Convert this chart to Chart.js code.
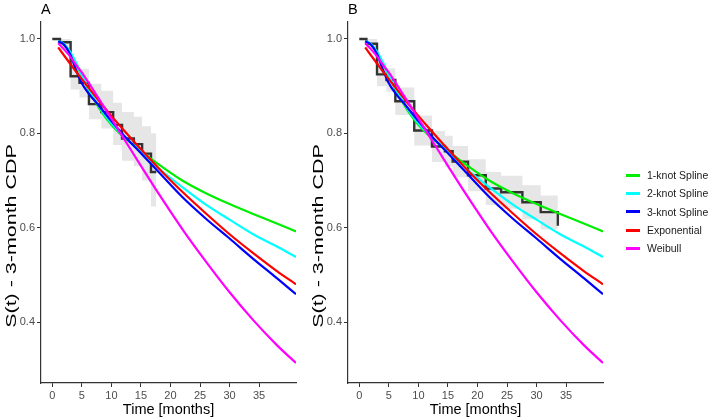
<!DOCTYPE html>
<html>
<head>
<meta charset="utf-8">
<script src="https://cdn.jsdelivr.net/npm/chart.js@4/dist/chart.umd.min.js"></script>
<style>
  html, body { margin: 0; padding: 0; background: #fff; overflow: hidden; }
  #wrap { position: relative; width: 709px; height: 420px; }
  canvas { position: absolute; top: 0; }
  #panelA { left: 0; }
  #panelB { left: 307px; }
  #legend { position: absolute; left: 626px; top: 166px; font-family: "Liberation Sans", Arial, sans-serif; font-size: 10.5px; color: #1a1a1a; }
  .row { height: 18.3px; display: flex; align-items: center; }
  .swatch { width: 14px; height: 3px; margin-right: 7px; }
</style>
</head>
<body>
<div id="wrap">
  <canvas id="panelA" width="300" height="420"></canvas>
  <canvas id="panelB" width="402" height="420"></canvas>
  <div id="legend"></div>
</div>
<script>
// Axes
const xTicks = [0, 5, 10, 15, 20, 25, 30, 35];
const yTicks = [0.4, 0.6, 0.8, 1.0];

// Modelled survival curves (same in both panels)
const curveTimes = [1, 2, 3, 4, 5, 6, 8, 10, 12, 15, 18, 22, 26, 30, 34, 38, 41.24];
const spline1 = [0.995, 0.987, 0.971, 0.948, 0.921, 0.896, 0.852, 0.818, 0.793, 0.763, 0.734, 0.700, 0.673, 0.650, 0.629, 0.609, 0.592];
const spline2 = [0.996, 0.989, 0.973, 0.950, 0.923, 0.898, 0.855, 0.821, 0.795, 0.761, 0.726, 0.686, 0.649, 0.617, 0.586, 0.560, 0.538];
const spline3 = [0.995, 0.988, 0.968, 0.935, 0.906, 0.887, 0.857, 0.826, 0.797, 0.758, 0.718, 0.665, 0.619, 0.577, 0.534, 0.493, 0.459];
const exponential = [0.982, 0.965, 0.948, 0.931, 0.915, 0.899, 0.867, 0.837, 0.808, 0.766, 0.726, 0.676, 0.630, 0.586, 0.546, 0.508, 0.480];
const weibull = [0.991, 0.978, 0.963, 0.945, 0.929, 0.910, 0.871, 0.831, 0.791, 0.731, 0.672, 0.597, 0.528, 0.463, 0.404, 0.351, 0.313];

const seriesNames = ['1-knot Spline', '2-knot Spline', '3-knot Spline', 'Exponential', 'Weibull'];
const seriesColors = ['#00ee00', '#00ffff', '#0000ff', '#ff0000', '#ff00ff'];
const seriesValues = [spline1, spline2, spline3, exponential, weibull];

// Kaplan-Meier estimate and its confidence band, panel A
const kmTimesA = [0, 1.3, 3.1, 4.6, 6.2, 8.3, 10.3, 11.8, 13.8, 15.2, 16.7, 17.6];
const kmSurvA = [1.0, 0.993, 0.921, 0.907, 0.862, 0.845, 0.818, 0.789, 0.777, 0.757, 0.718, 0.718];
const kmUpperA = [1.0, 1.0, 0.948, 0.937, 0.905, 0.890, 0.865, 0.845, 0.835, 0.815, 0.800, 0.800];
const kmLowerA = [1.0, 0.975, 0.893, 0.876, 0.830, 0.810, 0.775, 0.742, 0.730, 0.700, 0.645, 0.645];

// Kaplan-Meier estimate and its confidence band, panel B
const kmTimesB = [0, 1.2, 3.0, 4.6, 6.1, 9.3, 12.3, 14.5, 15.8, 18.4, 21.4, 24.0, 27.6, 30.7, 33.6];
const kmSurvB = [1.0, 0.990, 0.925, 0.913, 0.868, 0.806, 0.772, 0.762, 0.740, 0.711, 0.683, 0.675, 0.654, 0.633, 0.604];
const kmUpperB = [1.0, 1.0, 0.950, 0.938, 0.897, 0.838, 0.805, 0.795, 0.773, 0.745, 0.718, 0.710, 0.690, 0.668, 0.640];
const kmLowerB = [1.0, 0.980, 0.900, 0.888, 0.839, 0.774, 0.739, 0.729, 0.707, 0.677, 0.648, 0.640, 0.618, 0.596, 0.570];

const FONT = '"Liberation Sans", Arial, sans-serif';
const Y_TITLE = 'S(t) - 3-month CDP';

function pts(xs, ys) {
    return xs.map((x, i) => ({ x: x, y: ys[i] }));
}

// Lettre du panneau + titre vertical (étiré en longueur et décalé vers le bas, comme sur l'original)
const panelText = {
    id: 'panelText',
    afterDraw(chart, args, opts) {
        const ctx = chart.ctx;
        ctx.save();
        ctx.fillStyle = '#000';
        ctx.font = '14.5px ' + FONT;
        ctx.textBaseline = 'middle';
        ctx.textAlign = 'left';
        ctx.fillText(opts.letter, chart.chartArea.left, 10);

        ctx.translate(12, 236);
        ctx.rotate(-Math.PI / 2);
        ctx.scale(1.48, 1);
        ctx.font = '14.5px ' + FONT;
        ctx.textAlign = 'center';
        ctx.fillText(Y_TITLE, 0, 0);
        ctx.restore();
    }
};

function buildDatasets(times, surv, upper, lower) {
    const ds = seriesValues.map((vals, i) => ({
        label: seriesNames[i],
        data: pts(curveTimes, vals),
        borderColor: seriesColors[i],
        borderWidth: 2.2,
        pointRadius: 0,
        cubicInterpolationMode: 'monotone',
        fill: false,
        order: 5 - i
    }));
    ds.push({
        label: 'KM',
        data: pts(times, surv),
        borderColor: '#333333',
        borderWidth: 2.4,
        pointRadius: 0,
        stepped: true,
        fill: false,
        order: 6
    });
    ds.push({
        label: 'upper',
        data: pts(times, upper),
        borderWidth: 0,
        borderColor: 'rgba(0,0,0,0)',
        backgroundColor: '#e6e6e6',
        pointRadius: 0,
        stepped: true,
        fill: '+1',
        order: 7
    });
    ds.push({
        label: 'lower',
        data: pts(times, lower),
        borderWidth: 0,
        borderColor: 'rgba(0,0,0,0)',
        pointRadius: 0,
        stepped: true,
        fill: false,
        order: 8
    });
    return ds;
}

function makePanel(id, letter, rightPad, times, surv, upper, lower) {
    return new Chart(document.getElementById(id), {
        type: 'line',
        data: { datasets: buildDatasets(times, surv, upper, lower) },
        options: {
            responsive: false,
            animation: false,
            devicePixelRatio: 1,
            layout: { padding: { top: 22, right: rightPad, bottom: 0, left: 0 } },
            plugins: {
                legend: { display: false },
                tooltip: { enabled: false },
                panelText: { letter: letter }
            },
            scales: {
                x: {
                    type: 'linear',
                    min: -1.91,
                    max: 41.24,
                    afterBuildTicks: axis => { axis.ticks = xTicks.map(v => ({ value: v })); },
                    afterFit: axis => { axis.height = 37; },
                    ticks: { color: '#4d4d4d', font: { family: FONT, size: 11 }, padding: 2, maxRotation: 0 },
                    grid: { display: true, drawOnChartArea: false, drawTicks: true, tickLength: 4, color: '#333' },
                    border: { display: true, color: '#333', width: 1.2 },
                    title: { display: true, text: 'Time [months]', color: '#000', font: { family: FONT, size: 14.5 }, padding: { top: 0, bottom: 1.5 } }
                },
                y: {
                    type: 'linear',
                    min: 0.2707,
                    max: 1.036,
                    afterBuildTicks: axis => { axis.ticks = yTicks.map(v => ({ value: v })); },
                    afterFit: axis => { axis.width = 41; },
                    ticks: { color: '#4d4d4d', font: { family: FONT, size: 11 }, padding: 2, callback: v => v.toFixed(1) },
                    grid: { display: true, drawOnChartArea: false, drawTicks: true, tickLength: 4, color: '#333' },
                    border: { display: true, color: '#333', width: 1.2 },
                    title: { display: false }
                }
            }
        },
        plugins: [panelText]
    });
}

makePanel('panelA', 'A', 4, kmTimesA, kmSurvA, kmUpperA, kmLowerA);
makePanel('panelB', 'B', 106, kmTimesB, kmSurvB, kmUpperB, kmLowerB);

// Légende HTML construite à partir des mêmes tableaux
const legend = document.getElementById('legend');
seriesNames.forEach((name, i) => {
    const row = document.createElement('div');
    row.className = 'row';
    const sw = document.createElement('span');
    sw.className = 'swatch';
    sw.style.background = seriesColors[i];
    const txt = document.createElement('span');
    txt.textContent = name;
    row.appendChild(sw);
    row.appendChild(txt);
    legend.appendChild(row);
});
</script>
</body>
</html>
